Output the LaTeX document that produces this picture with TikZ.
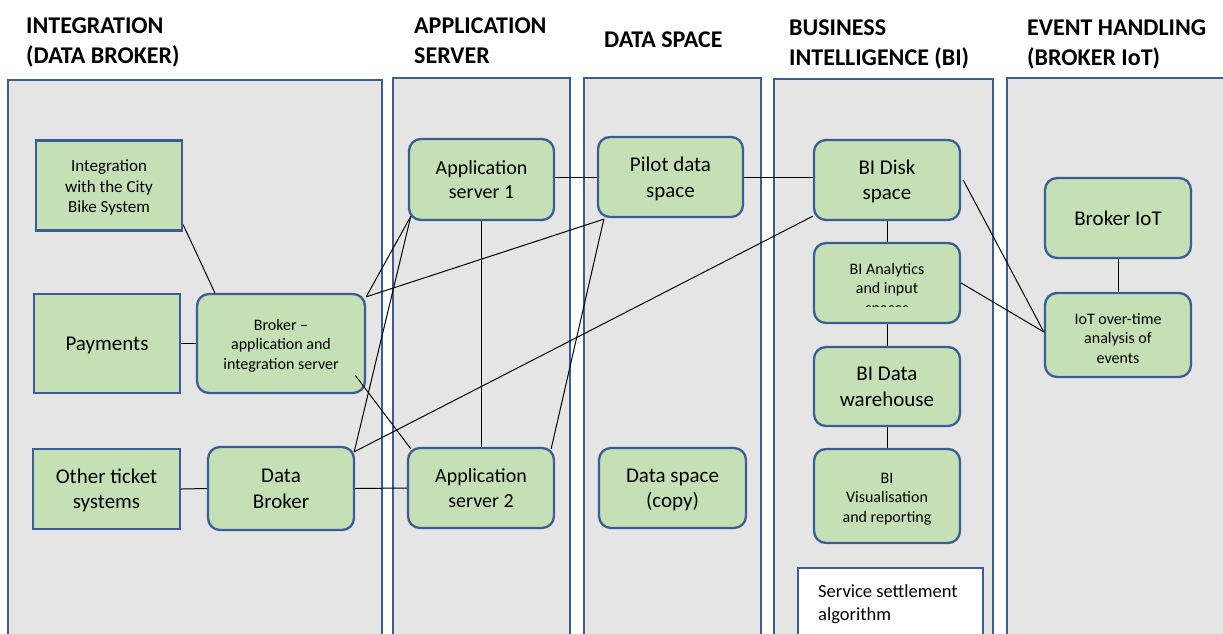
\documentclass[tikz,border=0pt]{standalone}
\usepackage{fontspec}
\setmainfont{Carlito}
\usetikzlibrary{calc}
\definecolor{panelfill}{HTML}{E5E5E5}
\definecolor{edgeblue}{HTML}{3A5D98}
\definecolor{boxgreen}{HTML}{C5E0B4}
% invisible strut giving a text block of #3 lines (size #1, leading #2)
% the ascent and descent of the font, so that it centres like a word processor;
% #4 lowers the block by that many points
\newcommand\blockstrut[4]{%
  \pgfmathsetlengthmacro\bsTotal{(#3-1)*#2+1.221*#1+2*#4}%
  \pgfmathsetlengthmacro\bsDepth{0.269*#1}%
  \rule[-\bsDepth]{0pt}{\bsTotal}}
\tikzset{
  panel/.style={draw=edgeblue, fill=panelfill, line width=2pt},
  heading/.style={anchor=north west, align=left, inner sep=0pt, font=\bfseries\fontsize{24}{30}\selectfont},
  sqbox/.style={draw=edgeblue, fill=boxgreen, line width=2.3pt, align=center, inner sep=0pt},
  rbox/.style={sqbox, rounded corners=12pt},
  txt/.style n args={4}{font=\fontsize{#1}{#2}\selectfont, execute at begin node={\blockstrut{#1}{#2}{#3}{#4}}},
  link/.style={draw=black, line width=1pt},
}
\begin{document}
\begin{tikzpicture}[x=1pt, y=-1pt]
\useasboundingbox (0,0) rectangle (1223,633);
\clip (0,0) rectangle (1223,633);
\fill[white] (0,0) rectangle (1223,633);

% column panels
\draw[panel] (8,80) rectangle (382,660);
\draw[panel] (393,78) rectangle (570,660);
\draw[panel] (584,78) rectangle (761,660);
\draw[panel] (774,79) rectangle (993,660);
\draw[panel] (1007,78) rectangle (1240,660);

% column headings
\node[heading] (h1) at (26,18) {INTEGRATION\\(DATA BROKER)};
\node[heading] (h2) at (414,18) {APPLICATION\\SERVER};
\node[heading] (h3) at (604,32) {DATA SPACE};
\node[heading] (h4) at (789,20) {BUSINESS\\INTELLIGENCE (BI)};
\node[heading] (h5) at (1027,20) {EVENT HANDLING\\(BROKER IoT)};

% integration column
\node[sqbox, txt={17}{20.5}{3}{1}, minimum width=146pt, minimum height=90pt] (citybike) at (109,185.5) {Integration\\with the City\\Bike System};
\node[sqbox, txt={21}{25.6}{1}{0}, minimum width=146pt, minimum height=99pt] (payments) at (107,343.5) {Payments};
\node[sqbox, txt={21}{25.6}{2}{0}, minimum width=147pt, minimum height=80pt] (other) at (106.5,489) {Other ticket\\systems};
\node[rbox, txt={16}{19.5}{3}{1}, minimum width=168pt, minimum height=99pt] (broker) at (281,343.5) {Broker –\\application and\\integration server};
\node[rbox, txt={21}{25.6}{2}{0}, minimum width=146pt, minimum height=83pt] (databroker) at (281,488.5) {Data\\Broker};

% application servers
\node[rbox, txt={20}{24.4}{2}{0}, minimum width=145pt, minimum height=81pt] (app1) at (481.5,179.5) {Application\\server 1};
\node[rbox, txt={20}{24.4}{2}{0}, minimum width=146pt, minimum height=80pt] (app2) at (481,488) {Application\\server 2};

% data spaces
\node[rbox, txt={21}{26}{2}{0.5}, minimum width=145pt, minimum height=80pt] (pilot) at (670.5,177) {Pilot data\\space};
\node[rbox, txt={21}{25.6}{2}{0}, minimum width=147pt, minimum height=80pt] (dscopy) at (672.5,488) {Data space\\(copy)};

% business intelligence
\node[rbox, txt={21}{25.6}{2}{0}, minimum width=146pt, minimum height=80pt] (bidisk) at (887,180) {BI Disk\\space};
\node[rbox, minimum width=146pt, minimum height=80pt] (bian) at (887,283) {};
\begin{scope}
  \clip (814,240) rectangle (960,306.5);
  \node[font=\fontsize{16}{19.5}\selectfont, align=center, anchor=north, inner sep=0pt] (biantext) at (887,263) {BI Analytics\\and input\\spaces};
\end{scope}
\node[rbox, txt={21}{26.5}{2}{0}, minimum width=146pt, minimum height=79pt] (bidw) at (887,386.5) {BI Data\\warehouse};
\node[rbox, txt={16}{19.5}{3}{1.2}, minimum width=146pt, minimum height=94pt] (bivis) at (887,496) {BI\\Visualisation\\and reporting};
\node[draw=edgeblue, fill=white, line width=2.3pt, minimum width=185pt, minimum height=90pt, anchor=north west] (settle) at (797,567) {};
\node[anchor=north west, align=left, inner sep=0pt, font=\fontsize{18.5}{23}\selectfont] (settletext) at (818,584) {Service settlement\\algorithm};

% event handling
\node[rbox, txt={21}{25.6}{1}{0}, minimum width=146pt, minimum height=80pt] (brokeriot) at (1118,218) {Broker IoT};
\node[rbox, txt={16}{19.5}{3}{3.5}, minimum width=146pt, minimum height=84pt] (iotan) at (1118,335) {IoT over-time\\analysis of\\events};

% connections
\draw[link] ([yshift=7pt]citybike.south east) -- ([xshift=19pt]broker.north west);
\draw[link] (payments.east) -- (broker.west);
\draw[link] (other.east) -- (databroker.west);
\draw[link] (databroker.east) -- (app2.west);
\coordinate (bk) at ([yshift=-4pt]broker.north east);
\draw[link] (bk) -- ([shift={(3pt,5pt)}]app1.south west);
\draw[link] (bk) -- ([shift={(7pt,-1pt)}]pilot.south west);
\draw[link] ([shift={(-11pt,19pt)}]broker.south east) -- ([shift={(4pt,-2pt)}]app2.north west);
\coordinate (db) at ([shift={(-1pt,-6pt)}]databroker.north east);
\draw[link] (db) -- ([shift={(3pt,5pt)}]app1.south west);
\draw[link] (db) -- ([yshift=5pt]bidisk.south west);
\draw[link] (app1.south) -- (app1.south |- app2.north);
\draw[link] ([shift={(-4pt,-2pt)}]app2.north east) -- ([shift={(7pt,-1pt)}]pilot.south west);
\draw[link] (pilot.west) -- (pilot.west -| app1.east);
\draw[link] (pilot.east) -- (pilot.east -| bidisk.west);
\draw[link] (bidisk.south) -- (bian.north);
\draw[link] (bian.south) -- (bidw.north);
\draw[link] (bidw.south) -- (bivis.north);
\draw[link] (brokeriot.south) -- (iotan.north);
\coordinate (ia) at ([yshift=3pt]iotan.west);
\draw[link] ([xshift=2pt]bidisk.east) -- (ia);
\draw[link] (bian.east) -- (ia);
\end{tikzpicture}
\end{document}
